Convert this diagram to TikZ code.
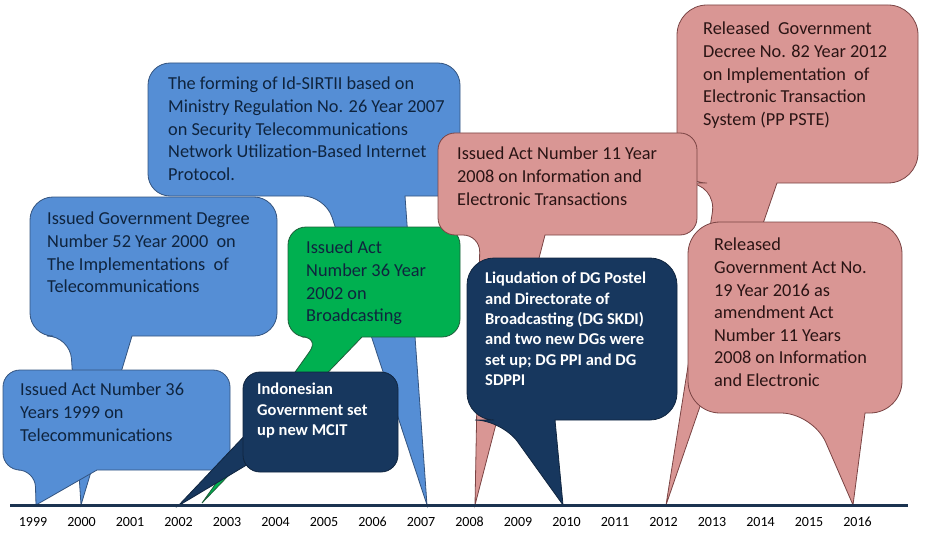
\documentclass[tikz,border=0pt]{standalone}
\usepackage{fontspec}
\setmainfont{Carlito}
\usepackage{xcolor}
\definecolor{calloutblue}{HTML}{558ED5}
\definecolor{calloutblueline}{HTML}{34547F}
\definecolor{calloutgreen}{HTML}{00B050}
\definecolor{calloutgreenline}{HTML}{1E5E3A}
\definecolor{calloutnavy}{HTML}{17375E}
\definecolor{calloutnavyline}{HTML}{10253F}
\definecolor{calloutpink}{HTML}{D99694}
\definecolor{calloutpinkline}{HTML}{7A4444}
\definecolor{darktext}{HTML}{0F243E}
\definecolor{pinktext}{HTML}{2A1414}
\definecolor{axisnavy}{HTML}{1B3350}

\begin{document}
\begin{tikzpicture}[x=1pt,y=-1pt,
    bluecall/.style={fill=calloutblue,draw=calloutblueline,line width=0.8pt},
    greencall/.style={fill=calloutgreen,draw=calloutgreenline,line width=0.8pt},
    navycall/.style={fill=calloutnavy,draw=calloutnavyline,line width=0.8pt},
    pinkcall/.style={fill=calloutpink,draw=calloutpinkline,line width=0.8pt},
    calltext/.style={anchor=north west,inner sep=0pt,align=left,
        font=\fontsize{18.3}{22.6}\selectfont,text=darktext},
    boldtext/.style={calltext,font=\fontsize{16.5}{20.3}\selectfont\bfseries,text=white},
    yearlbl/.style={font=\fontsize{14}{16}\selectfont,inner sep=0pt}]
    \useasboundingbox (0,0) rectangle (925,540);

    % 2007: Id-SIRTII
    \draw[bluecall] (325,196) [sharp corners]-- (427,505) -- (405,196) [rounded corners=22pt]-- (460,196) -- (460,63) -- (148,63) -- (148,196) -- cycle;
    \node[calltext] (sirtii) at (168,77) {The forming of Id-SIRTII based on\\Ministry Regulation No. 26 Year 2007\\on Security Telecommunications\\Network Utilization-Based Internet\\Protocol.};

    % 2012: PP PSTE
    \draw[pinkcall] (717,183) [sharp corners]-- (666,505) -- (777,183) [rounded corners=30pt]-- (918,183) -- (918,5) -- (677,5) -- (677,183) -- cycle;
    \node[calltext,text=pinktext] (pstedecree) at (703,22) {Released~ Government\\Decree No. 82 Year 2012\\on Implementation~ of\\Electronic Transaction\\System (PP PSTE)};

    % 2000: Degree 52
    \draw[bluecall] (70,336) [sharp corners]-- (81,505) -- (132,336) [rounded corners=23pt]-- (277,336) -- (277,197) -- (30,197) -- (30,336) -- cycle;
    \node[calltext] (degree52) at (47,212) {Issued Government Degree\\Number 52 Year 2000~ on\\The Implementations~ of\\Telecommunications};

    % 1999: Act 36
    \draw[bluecall] (35,470) [sharp corners]-- (36,505) -- (97,470) [rounded corners=17pt]-- (230,470) -- (230,370) -- (3,370) -- (3,470) -- cycle;
    \node[calltext] (act36) at (20,383) {Issued Act Number 36\\Years 1999 on\\Telecommunications};

    % 2002: Broadcasting
    \draw[greencall] (320,337) [sharp corners]-- (202,503) -- (362,337) [rounded corners=18pt]-- (460,337) -- (460,227) -- (288,227) -- (288,337) -- cycle;
    \node[calltext] (broadcast) at (306,241) {Issued Act\\Number 36 Year\\2002 on\\Broadcasting};

    % 2001: MCIT
    \draw[navycall] (250,430) -- (178,506) -- (255,460) -- cycle;
    \draw[navycall,rounded corners=17pt] (243,372) rectangle (398,472);
    \node[boldtext] (mcit) at (257,383) {Indonesian\\Government set\\up new MCIT};

    % 2008: ITE act
    \draw[pinkcall] (480,235) [sharp corners]-- (475,505) -- (545,235) [rounded corners=17pt]-- (697,235) -- (697,133) -- (438,133) -- (438,235) -- cycle;
    \node[calltext,text=pinktext] (iteact) at (457,147) {Issued Act Number 11 Year\\2008 on Information and\\Electronic Transactions};

    % 2010: new DGs
    \draw[navycall] (502,420) [sharp corners]-- (563,505) -- (555,420) [rounded corners=27pt]-- (677,420) -- (677,258) -- (467,258) -- (467,420) -- cycle;
    \node[boldtext] (newdg) at (485,272) {Liqudation of DG Postel\\and Directorate of\\Broadcasting (DG SKDI)\\and two new DGs were\\set up; DG PPI and DG\\SDPPI};

    % 2016: amendment
    \draw[pinkcall] (813,413) [sharp corners]-- (853,505) -- (865,413) [rounded corners=32pt]-- (902,413) -- (902,222) -- (688,222) -- (688,413) -- cycle;
    \node[calltext,text=pinktext] (amend) at (714,238) {Released\\Government Act No.\\19 Year 2016 as\\amendment Act\\Number 11 Years\\2008 on Information\\and Electronic};

    % timeline
    \coordinate (axstart) at (10,505);
    \coordinate (axend) at (908,505);
    \draw[axisnavy,line width=3pt] (axstart) -- (axend);
    \foreach \yr [count=\i from 0] in {1999,...,2016}
        \node[yearlbl] (y\yr) at (33+48.5*\i,522) {\yr};
\end{tikzpicture}
\end{document}
